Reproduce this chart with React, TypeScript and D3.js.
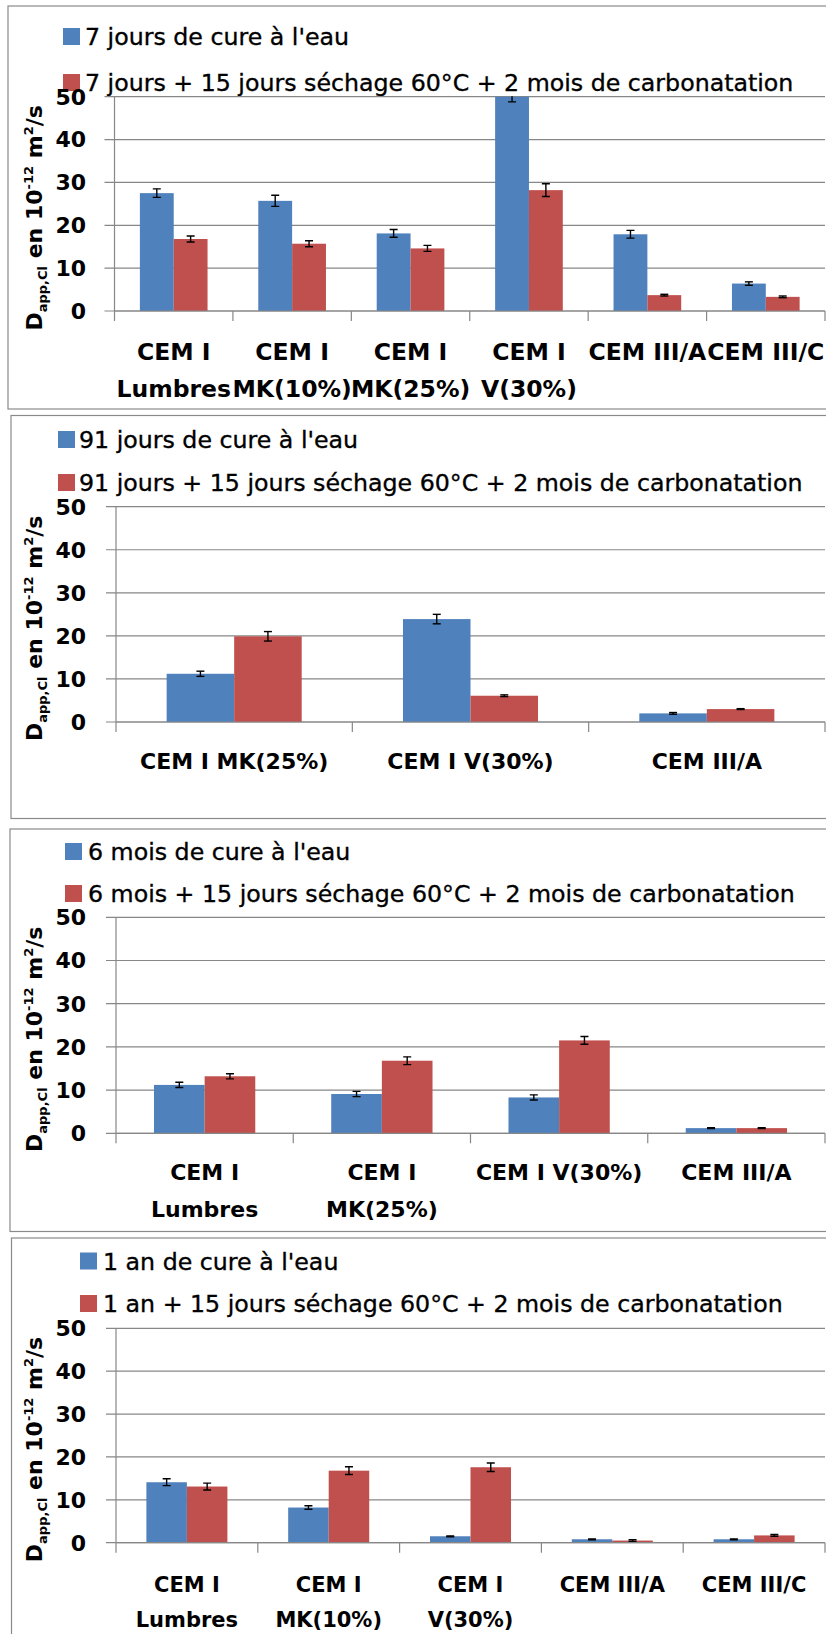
import React from 'react';
import * as d3 from 'd3';

// ---------- DATA ----------
const seriesKeys = ['eau', 'carbonatation'];
const seriesColors = ['#4F81BD', '#C0504D'];
const yTicks = [0, 10, 20, 30, 40, 50];

// Panel 1 : 7 jours
const p1Categories = ['CEM I\nLumbres', 'CEM I\nMK(10%)', 'CEM I\nMK(25%)', 'CEM I\nV(30%)', 'CEM III/A', 'CEM III/C'];
const p1Legend = ["7 jours de cure à l'eau", '7 jours + 15 jours séchage 60°C + 2 mois de carbonatation'];
const p1Water = [27.5, 25.7, 18.1, 50, 17.9, 6.4];
const p1WaterErr = [1.0, 1.3, 0.9, 1.2, 0.9, 0.4];
const p1Carb = [16.8, 15.7, 14.6, 28.2, 3.7, 3.3];
const p1CarbErr = [0.7, 0.7, 0.7, 1.5, 0.2, 0.2];

// Panel 2 : 91 jours
const p2Categories = ['CEM I MK(25%)', 'CEM I V(30%)', 'CEM III/A'];
const p2Legend = ["91 jours de cure à l'eau", '91 jours + 15 jours séchage 60°C + 2 mois de carbonatation'];
const p2Water = [11.2, 23.9, 2.0];
const p2WaterErr = [0.6, 1.1, 0.2];
const p2Carb = [19.9, 6.1, 3.0];
const p2CarbErr = [1.1, 0.2, 0.1];

// Panel 3 : 6 mois
const p3Categories = ['CEM I\nLumbres', 'CEM I\nMK(25%)', 'CEM I V(30%)', 'CEM III/A'];
const p3Legend = ["6 mois de cure à l'eau", '6 mois + 15 jours séchage 60°C + 2 mois de carbonatation'];
const p3Water = [11.2, 9.1, 8.3, 1.2];
const p3WaterErr = [0.6, 0.6, 0.6, 0.1];
const p3Carb = [13.2, 16.8, 21.5, 1.2];
const p3CarbErr = [0.6, 0.9, 0.9, 0.1];

// Panel 4 : 1 an
const p4Categories = ['CEM I\nLumbres', 'CEM I\nMK(10%)', 'CEM I\nV(30%)', 'CEM III/A', 'CEM III/C'];
const p4Legend = ["1 an de cure à l'eau", '1 an + 15 jours séchage 60°C + 2 mois de carbonatation'];
const p4Water = [14.1, 8.2, 1.5, 0.8, 0.8];
const p4WaterErr = [0.8, 0.4, 0.1, 0.1, 0.1];
const p4Carb = [13.1, 16.8, 17.6, 0.5, 1.7];
const p4CarbErr = [0.8, 0.9, 1.0, 0.2, 0.2];

const panels = [
  { categories: p1Categories, legend: p1Legend, values: [p1Water, p1Carb], errors: [p1WaterErr, p1CarbErr] },
  { categories: p2Categories, legend: p2Legend, values: [p2Water, p2Carb], errors: [p2WaterErr, p2CarbErr] },
  { categories: p3Categories, legend: p3Legend, values: [p3Water, p3Carb], errors: [p3WaterErr, p3CarbErr] },
  { categories: p4Categories, legend: p4Legend, values: [p4Water, p4Carb], errors: [p4WaterErr, p4CarbErr] },
];

// ---------- LAYOUT ----------
const W = 826;
const H = 1634;
const PLOT_RIGHT = 825;
const FONT = "'DejaVu Sans', sans-serif";

const layouts = [
  { frameX: 8, frameTop: 6, frameBottom: 409, plotLeft: 114.5, plotTop: 96.7, plotBottom: 311,
    sqX: 63, textX: 85, base1: 45, base2: 91, catFont: 23.5, catBase: 49, catLine: 36.5 },
  { frameX: 11, frameTop: 415.5, frameBottom: 818.5, plotLeft: 116, plotTop: 506.7, plotBottom: 722,
    sqX: 58, textX: 79, base1: 448, base2: 491, catFont: 22, catBase: 46.5, catLine: 36 },
  { frameX: 10, frameTop: 829, frameBottom: 1231.5, plotLeft: 116, plotTop: 917.3, plotBottom: 1133.3,
    sqX: 65, textX: 88, base1: 860, base2: 902, catFont: 22, catBase: 47, catLine: 36.5 },
  { frameX: 11.5, frameTop: 1238, frameBottom: 1660, plotLeft: 116, plotTop: 1328.3, plotBottom: 1542.7,
    sqX: 80, textX: 103, base1: 1269.5, base2: 1312, catFont: 21, catBase: 49, catLine: 35 },
];

const GRID = '#878787';

function Panel({ idx, data, L }: { idx: number; data: any; L: any }) {
  const x0 = d3.scaleBand<string>().domain(data.categories).range([L.plotLeft, PLOT_RIGHT]).paddingInner(0).paddingOuter(0);
  const x1 = d3.scaleBand<string>().domain(seriesKeys).range([0, x0.bandwidth()]).paddingInner(0).paddingOuter(0.75);
  const y = d3.scaleLinear().domain([0, 50]).range([L.plotBottom, L.plotTop]);
  const clipId = `plotclip${idx}`;
  const boundaries = (data.categories as string[]).map((c) => x0(c) as number).concat([PLOT_RIGHT]);
  const titleCy = (L.plotTop + L.plotBottom) / 2 + 14;

  return (
    <g>
      <rect x={L.frameX} y={L.frameTop} width={W + 10 - L.frameX} height={L.frameBottom - L.frameTop}
        fill="#fff" stroke="#8a8a8a" strokeWidth={1.2} />
      <defs>
        <clipPath id={clipId}>
          <rect x={L.plotLeft} y={L.plotTop - 0.5} width={PLOT_RIGHT - L.plotLeft} height={L.plotBottom - L.plotTop + 0.5} />
        </clipPath>
      </defs>

      {/* legend */}
      {data.legend.map((t: string, i: number) => {
        const base = i === 0 ? L.base1 : L.base2;
        return (
          <g key={i}>
            <rect x={L.sqX} y={base - 17} width={17} height={17} fill={seriesColors[i]} />
            <text x={L.textX} y={base} fontFamily={FONT} fontSize={23.7} fill="#000" stroke="#000" strokeWidth={0.35}>{t}</text>
          </g>
        );
      })}

      {/* gridlines */}
      {yTicks.map((t) => (
        <line key={t} x1={L.plotLeft - 10} x2={PLOT_RIGHT} y1={y(t)} y2={y(t)} stroke={GRID} strokeWidth={1.2} />
      ))}
      {/* y axis */}
      <line x1={L.plotLeft} x2={L.plotLeft} y1={L.plotTop} y2={L.plotBottom} stroke={GRID} strokeWidth={1.2} />
      {/* x tick marks */}
      {boundaries.map((bx, i) => (
        <line key={i} x1={bx} x2={bx} y1={L.plotBottom} y2={L.plotBottom + 10} stroke={GRID} strokeWidth={1.2} />
      ))}

      {/* y tick labels */}
      {yTicks.map((t) => (
        <text key={t} x={86} y={y(t)} dy="0.36em" textAnchor="end" fontFamily={FONT} fontWeight="bold" fontSize={22} fill="#000">{t}</text>
      ))}

      {/* bars + error bars */}
      <g clipPath={`url(#${clipId})`}>
        {seriesKeys.map((k, si) => (
          <g key={k}>
            {(data.categories as string[]).map((c, ci) => {
              const v = data.values[si][ci];
              const bx = (x0(c) as number) + (x1(k) as number);
              return (
                <rect key={ci} x={bx} y={y(v)} width={x1.bandwidth()} height={y(0) - y(v)} fill={seriesColors[si]} />
              );
            })}
          </g>
        ))}
        {seriesKeys.map((k, si) => (
          <g key={k + 'err'} stroke="#000" strokeWidth={1.4}>
            {(data.categories as string[]).map((c, ci) => {
              const v = data.values[si][ci];
              const e = data.errors[si][ci];
              const cx = (x0(c) as number) + (x1(k) as number) + x1.bandwidth() / 2;
              const yl = y(v - e);
              const yh = y(v + e);
              return (
                <g key={ci}>
                  <line x1={cx} x2={cx} y1={yl} y2={yh} />
                  <line x1={cx - 4} x2={cx + 4} y1={yl} y2={yl} />
                  <line x1={cx - 4} x2={cx + 4} y1={yh} y2={yh} />
                </g>
              );
            })}
          </g>
        ))}
      </g>

      {/* x axis line */}
      <line x1={L.plotLeft} x2={PLOT_RIGHT} y1={L.plotBottom} y2={L.plotBottom} stroke={GRID} strokeWidth={1.2} />

      {/* category labels */}
      {(data.categories as string[]).map((c, ci) => {
        const cx = (x0(c) as number) + x0.bandwidth() / 2;
        const lines = c.split('\n');
        return (
          <text key={ci} textAnchor="middle" fontFamily={FONT} fontWeight="bold" fontSize={L.catFont} fill="#000">
            {lines.map((ln, li) => (
              <tspan key={li} x={cx} y={L.plotBottom + L.catBase + li * L.catLine}>{ln}</tspan>
            ))}
          </text>
        );
      })}

      {/* y axis title */}
      <text transform={`translate(42,${titleCy}) rotate(-90)`} textAnchor="middle" fontFamily={FONT} fontWeight="bold" fontSize={22} fill="#000">
        <tspan>D</tspan>
        <tspan fontSize={13} dy={5}>app,Cl</tspan>
        <tspan dy={-5}> en 10</tspan>
        <tspan fontSize={13} dy={-9}>-12</tspan>
        <tspan dy={9}> m</tspan>
        <tspan fontSize={13} dy={-9}>2</tspan>
        <tspan dy={9}>/s</tspan>
      </text>
    </g>
  );
}

export default function App() {
  return (
    <svg width={W} height={H} viewBox={`0 0 ${W} ${H}`} style={{ position: 'absolute', left: 0, top: 0, display: 'block' }}>
      <rect x={0} y={0} width={W} height={H} fill="#fff" />
      {panels.map((p, i) => (
        <Panel key={i} idx={i} data={p} L={layouts[i]} />
      ))}
    </svg>
  );
}
